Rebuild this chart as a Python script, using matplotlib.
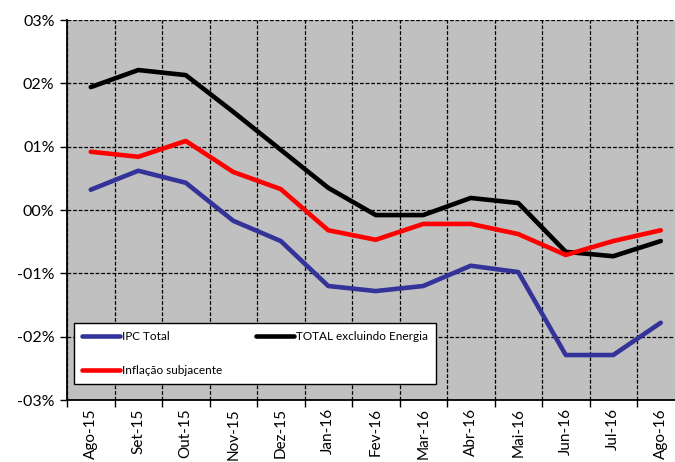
import matplotlib
matplotlib.use("Agg")
import matplotlib.pyplot as plt
import numpy as np

# monthly inflation, %
months = ["Ago-15", "Set-15", "Out-15", "Nov-15", "Dez-15", "Jan-16", "Fev-16",
          "Mar-16", "Abr-16", "Mai-16", "Jun-16", "Jul-16", "Ago-16"]
ipc_total = [0.32, 0.62, 0.43, -0.17, -0.49, -1.20, -1.28, -1.20, -0.88, -0.98, -2.29, -2.29, -1.78]
total_excl_energia = [1.94, 2.21, 2.13, 1.55, 0.95, 0.35, -0.08, -0.08, 0.19, 0.11, -0.66, -0.73, -0.49]
inflacao_subjacente = [0.92, 0.84, 1.09, 0.60, 0.33, -0.32, -0.47, -0.22, -0.22, -0.38, -0.71, -0.49, -0.32]
ytick_vals = [3, 2, 1, 0, -1, -2, -3]
ytick_labels = ["03%", "02%", "01%", "00%", "-01%", "-02%", "-03%"]

plt.rcParams['font.family'] = ['Lato', 'DejaVu Sans']

W, H = 675, 462
fig = plt.figure(figsize=(W / 100, H / 100), dpi=100)
left, right, top, bottom = 67, 684.5, 20, 400
ax = fig.add_axes([left / W, 1 - bottom / H, (right - left) / W, (bottom - top) / H])
ax.set_facecolor("#c0c0c0")

x = np.arange(len(months))
l1, = ax.plot(x, ipc_total, color="#333399", lw=3.3, label="IPC Total", solid_capstyle="round")
l2, = ax.plot(x, total_excl_energia, color="black", lw=3.3, label="TOTAL excluindo Energia", solid_capstyle="round")
l3, = ax.plot(x, inflacao_subjacente, color="#ff0000", lw=3.3, label="Inflação subjacente", solid_capstyle="round")

ax.set_xlim(-0.5, len(months) - 0.5)
ax.set_ylim(-3, 3)
ax.set_yticks(ytick_vals)
ax.set_yticklabels(ytick_labels, fontsize=11.5)
ax.set_xticks(np.arange(-0.5, len(months), 1.0))
ax.set_xticklabels([])
ax.set_xticks(x, minor=True)
ax.set_xticklabels(months, minor=True, rotation=90, fontsize=11)
ax.tick_params(axis="x", which="minor", length=0, pad=6)
ax.tick_params(axis="x", which="major", length=5, width=1, direction="out")
ax.tick_params(axis="y", length=5, width=1, direction="out", pad=4)
ax.grid(True, which="major", color="black", ls=(0, (3, 1.5)), lw=0.9)
ax.set_axisbelow(False)
for l in (l1, l2, l3):
    l.set_zorder(3)
for s in ("top", "right"):
    ax.spines[s].set_visible(False)
for s in ("left", "bottom"):
    ax.spines[s].set_linewidth(1.3)

leg = ax.legend(handles=[l1, l3, l2], ncol=2, mode="expand",
                bbox_to_anchor=(0.011, 0.042, 0.587, 0.184), loc="lower left",
                fontsize=8.5, frameon=True, fancybox=False, framealpha=1,
                edgecolor="black", handlelength=3.2, handletextpad=0.2,
                labelspacing=1.9, borderaxespad=0, borderpad=0.7)
leg.get_frame().set_linewidth(1.0)
leg.set_zorder(5)

fig.savefig("out.png", dpi=100)
